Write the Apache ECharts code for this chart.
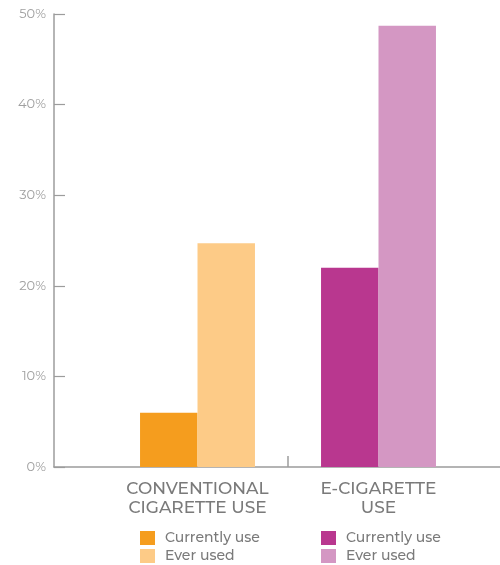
<!DOCTYPE html>
<html>
<head>
<meta charset="utf-8">
<script src="https://cdn.jsdelivr.net/npm/echarts@6/dist/echarts.min.js"></script>
<style>
html,body{margin:0;padding:0;background:#fff;}
#chart{width:500px;height:565px;}
</style>
</head>
<body>
<div id="chart"></div>
<script>
const categories = ['CONVENTIONAL\nCIGARETTE USE', 'E-CIGARETTE\nUSE'];
const yTicks = [0, 10, 20, 30, 40, 50];
const conventionalCurrent = [6.0, '-'];
const conventionalEver = [24.7, '-'];
const eCigCurrent = ['-', 22.0];
const eCigEver = ['-', 48.7];
const legendLabels = {
  convCur: 'Currently use',
  convEver: 'Ever used',
  ecigCur: 'Currently use',
  ecigEver: 'Ever used'
};
const colors = {
  convCur: '#F59D1E',
  convEver: '#FDCB87',
  ecigCur: '#B9378F',
  ecigEver: '#D497C3'
};

const chart = echarts.init(document.getElementById('chart'), null, {renderer: 'canvas'});
const font = 'Montserrat, "Noto Sans", "DejaVu Sans", sans-serif';
const axisGrey = '#9c9c9c';

const legendCommon = {
  top: 531, orient: 'vertical', itemWidth: 15, itemHeight: 14, itemGap: 4,
  padding: 0, icon: 'rect',
  formatter: n => legendLabels[n],
  textStyle: {color: '#7a7a7a', fontSize: 14, fontWeight: 500, lineHeight: 14, fontFamily: font, padding: [0, 0, 0, 5]}
};

const option = {
  animation: false,
  backgroundColor: '#fff',
  textStyle: {fontFamily: font},
  grid: [
    {left: 54, right: 0, top: 14, bottom: 98, outerBoundsMode: 'none'},
    {left: 107, width: 362, top: 14, bottom: 98, outerBoundsMode: 'none'}
  ],
  xAxis: [
    {
      gridIndex: 0, type: 'category', data: [''], position: 'bottom',
      axisLine: {show: true, lineStyle: {color: axisGrey, width: 1.5}},
      axisTick: {show: false}, axisLabel: {show: false}
    },
    {
      gridIndex: 1, type: 'value', min: -1, max: 1, position: 'bottom',
      axisLine: {show: false},
      splitLine: {show: false},
      axisLabel: {show: false},
      axisTick: {show: true, inside: true, length: 11, customValues: [0], lineStyle: {color: axisGrey, width: 1.5}}
    },
    {
      gridIndex: 1, type: 'category', data: categories, position: 'bottom',
      axisLine: {show: false}, axisTick: {show: false},
      axisLabel: {
        show: true, interval: 0, hideOverlap: false, margin: 13, color: '#7a7a7a',
        fontSize: 17, fontWeight: 500, lineHeight: 18.5,
        fontFamily: font, align: 'center'
      }
    }
  ],
  yAxis: [
    {
      gridIndex: 0, type: 'value', min: 0, max: 50, interval: 10,
      axisLine: {show: true, lineStyle: {color: axisGrey, width: 1.5}},
      axisTick: {show: true, inside: true, length: 11, lineStyle: {color: axisGrey, width: 1.2}},
      splitLine: {show: false},
      axisLabel: {
        margin: 8, color: '#a0a0a0', fontSize: 13, fontFamily: font,
        customValues: yTicks,
        formatter: v => v + '%'
      }
    },
    {
      gridIndex: 1, type: 'value', min: 0, max: 50, interval: 10,
      show: false
    }
  ],
  legend: [
    Object.assign({left: 140, data: ['convCur', 'convEver']}, legendCommon),
    Object.assign({left: 321, data: ['ecigCur', 'ecigEver']}, legendCommon)
  ],
  series: [
    {name: 'convCur', type: 'bar', xAxisIndex: 2, yAxisIndex: 1, stack: 'cur', data: conventionalCurrent,
     itemStyle: {color: colors.convCur}, barGap: '0%', barCategoryGap: '36.5%'},
    {name: 'convEver', type: 'bar', xAxisIndex: 2, yAxisIndex: 1, stack: 'ever', data: conventionalEver,
     itemStyle: {color: colors.convEver}, barGap: '0%', barCategoryGap: '36.5%'},
    {name: 'ecigCur', type: 'bar', xAxisIndex: 2, yAxisIndex: 1, stack: 'cur', data: eCigCurrent,
     itemStyle: {color: colors.ecigCur}, barGap: '0%', barCategoryGap: '36.5%'},
    {name: 'ecigEver', type: 'bar', xAxisIndex: 2, yAxisIndex: 1, stack: 'ever', data: eCigEver,
     itemStyle: {color: colors.ecigEver}, barGap: '0%', barCategoryGap: '36.5%'}
  ]
};
chart.setOption(option);
</script>
</body>
</html>
